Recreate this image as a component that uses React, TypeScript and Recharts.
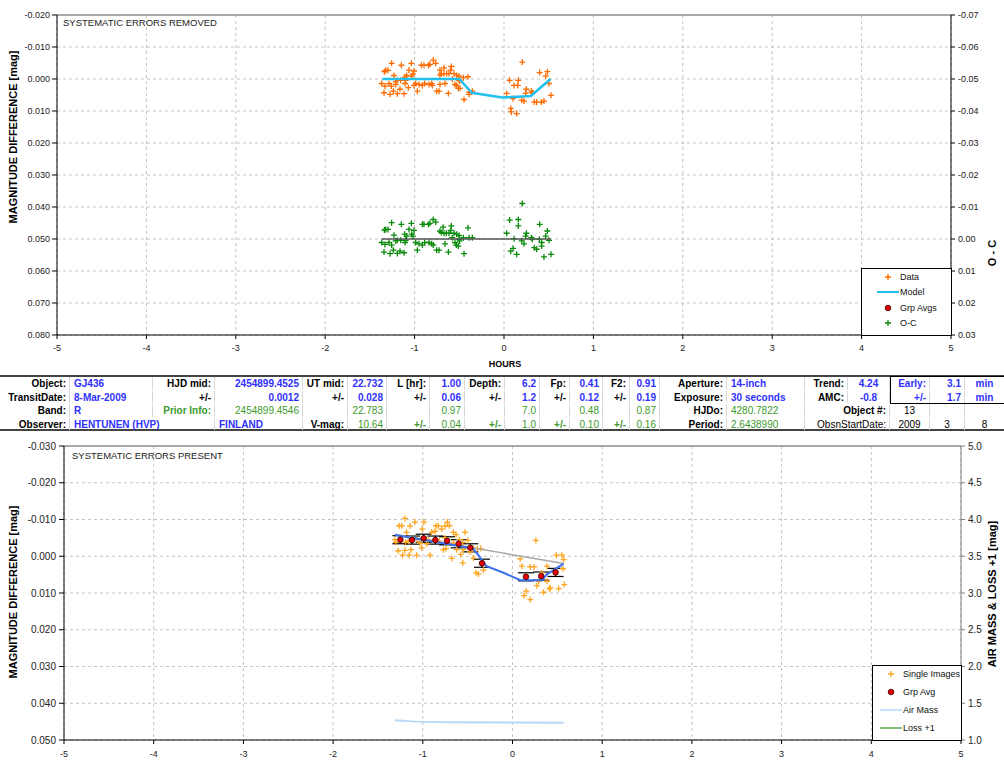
import React from "react";
import {
  ComposedChart,
  Scatter,
  XAxis,
  YAxis,
  CartesianGrid,
  ReferenceLine,
  ErrorBar,
} from "recharts";

const FONT = '"Liberation Sans", Arial, sans-serif';

// axis ticks
const HOUR_TICKS = [-5, -4, -3, -2, -1, 0, 1, 2, 3, 4, 5];
const TOP_LEFT_TICKS = [-0.02, -0.01, 0, 0.01, 0.02, 0.03, 0.04, 0.05, 0.06, 0.07, 0.08];
const TOP_RIGHT_TICKS = [-0.07, -0.06, -0.05, -0.04, -0.03, -0.02, -0.01, 0, 0.01, 0.02, 0.03];
const BOT_LEFT_TICKS = [-0.03, -0.02, -0.01, 0, 0.01, 0.02, 0.03, 0.04, 0.05];
const BOT_RIGHT_TICKS = [1, 1.5, 2, 2.5, 3, 3.5, 4, 4.5, 5];

// top panel: detrended data [hours, mag]
const DATA_PTS = [
  [-1.257, -0.0049], [-1.148, -0.0043], [-1.036, -0.0049], [-0.791, -0.0059], [-0.764, -0.0049],
  [-0.924, -0.0043], [-0.895, -0.0043], [-0.846, -0.0043], [-0.828, -0.0046], [-0.589, -0.0039],
  [-0.671, -0.0035], [-0.716, -0.0028], [0.205, -0.0053], [-1.323, -0.0027], [-1.297, -0.0027],
  [-1.338, -0.0023], [-1.063, -0.0028], [-1.007, -0.0025], [-0.596, -0.0028], [0.399, -0.002],
  [0.485, -0.0023], [-1.231, -0.0011], [-1.111, -0.0006], [-1.089, -0.0011], [-1.036, -0.0009],
  [-1.018, -0.0015], [-1.1, 0.0004], [-1.156, 0.0004], [-1.193, 0.0004], [-1.212, 0.0009],
  [-0.701, -0.0017], [-0.671, -0.0017], [-0.641, -0.0017], [-0.615, -0.0017], [-0.559, -0.0017],
  [-0.529, -0.0011], [-0.503, -0.0009], [-0.455, -0.0004], [-0.403, -0.0007], [-0.716, -0.0012],
  [-0.578, 0.0001], [-0.503, 0.0004], [-0.496, 0.0006], [0.466, -0.0009], [0.16, 0.0004],
  [0.063, 0.0004], [-1.368, 0.0014], [-1.331, 0.0022], [-1.286, 0.0014], [-1.26, 0.0022],
  [-1.212, 0.0017], [-1.107, 0.0014], [-0.988, 0.0014], [-0.951, 0.0017], [-0.913, 0.002],
  [-0.887, 0.0014], [-0.839, 0.0017], [-0.809, 0.0014], [-0.802, 0.002], [-0.66, 0.0014],
  [-0.548, 0.0017], [-0.533, 0.002], [-0.511, 0.0029], [0.112, 0.002], [0.153, 0.002],
  [0.503, 0.0014], [-0.716, 0.0017], [-1.007, 0.002], [-1.07, 0.0027], [-1.342, 0.0043],
  [-1.275, 0.0048], [-1.238, 0.0038], [-1.193, 0.0046], [-1.163, 0.0032], [-1.118, 0.0046],
  [-0.969, 0.0038], [-0.753, 0.0038], [-0.727, 0.0038], [-0.622, 0.0045], [-0.492, 0.0029],
  [-0.391, 0.0041], [-0.354, 0.0038], [-0.391, 0.0048], [0.03, 0.0045], [0.25, 0.0032],
  [0.306, 0.0038], [0.242, 0.0045], [0.317, 0.0043], [-0.447, 0.0064], [0.101, 0.0061],
  [0.198, 0.0066], [0.224, 0.0069], [0.339, 0.0072], [0.365, 0.0072], [0.447, 0.0069],
  [0.526, 0.0051], [0.075, 0.0092], [0.082, 0.0103], [0.142, 0.0108], [0.417, 0.0072],
];

const MODEL_PTS = [
  [-1.36, 0], [-0.5, 0], [-0.36, 0.0043], [-0.02, 0.0058], [0.3, 0.0053], [0.52, 0],
];

const OC_PTS = [
  [-1.257, 0.0449], [-1.148, 0.0454], [-1.036, 0.0451], [-0.913, 0.0454], [-0.895, 0.0454],
  [-0.846, 0.0454], [-0.828, 0.0451], [-0.791, 0.0439], [-0.764, 0.0447], [-0.589, 0.0459],
  [-0.682, 0.0463], [-0.716, 0.0475], [0.205, 0.0389], [-1.323, 0.047], [-1.297, 0.047],
  [-1.338, 0.0472], [-1.063, 0.047], [-1.007, 0.0473], [-0.596, 0.0473], [0.399, 0.0454],
  [0.485, 0.0475], [-1.231, 0.0488], [-1.111, 0.0485], [-1.089, 0.0491], [-1.033, 0.0485],
  [-1.018, 0.0491], [-1.156, 0.0504], [-1.193, 0.0504], [-1.1, 0.0504], [-1.212, 0.0506],
  [-0.701, 0.048], [-0.671, 0.0482], [-0.645, 0.0482], [-0.615, 0.0482], [-0.559, 0.0482],
  [-0.529, 0.0485], [-0.503, 0.0489], [-0.455, 0.0496], [-0.403, 0.0465], [-0.578, 0.0496],
  [-0.503, 0.0501], [-0.496, 0.0506], [0.466, 0.0491], [0.16, 0.0459], [0.063, 0.0441],
  [0.16, 0.0439], [-1.368, 0.0511], [-1.331, 0.0517], [-1.286, 0.0511], [-1.257, 0.0519],
  [-1.107, 0.0511], [-0.988, 0.0511], [-0.951, 0.0515], [-0.913, 0.0519], [-0.887, 0.0511],
  [-0.839, 0.0511], [-0.809, 0.0515], [-0.791, 0.0519], [-0.66, 0.0515], [-0.548, 0.0511],
  [-0.533, 0.0519], [-0.511, 0.0522], [0.112, 0.0499], [0.03, 0.0482], [0.503, 0.0504],
  [-1.342, 0.0541], [-1.275, 0.0546], [-1.238, 0.0535], [-1.193, 0.0545], [-1.163, 0.0538],
  [-1.118, 0.0543], [-0.969, 0.0535], [-0.753, 0.0535], [-0.727, 0.0535], [-0.622, 0.0541],
  [-0.391, 0.0496], [-0.354, 0.0496], [-0.447, 0.0546], [0.101, 0.0529], [0.075, 0.0538],
  [0.142, 0.0548], [0.198, 0.0506], [0.224, 0.0515], [0.25, 0.0482], [0.306, 0.0496],
  [0.242, 0.0491], [0.317, 0.0501], [0.339, 0.0527], [0.365, 0.0532], [0.447, 0.0556],
  [0.526, 0.0548], [0.421, 0.0511], [0.421, 0.0522], [0.395, 0.0501],
];

const OC_LINE = [[-1.368, 0.05], [0.526, 0.05]];

// bottom panel: raw data
const SINGLE_PTS = [
  [-1.199, -0.0103], [-1.263, -0.0083], [-1.236, -0.0083], [-1.143, -0.0082], [-1.088, -0.0093],
  [-0.987, -0.0093], [-1.006, -0.0074], [-1.181, -0.0065], [-0.853, -0.0083], [-0.827, -0.0083],
  [-0.79, -0.0074], [-0.752, -0.0082], [-0.726, -0.0093], [-0.704, -0.0083], [-0.864, -0.0068],
  [-0.901, -0.0065], [-0.659, -0.0065], [-0.629, -0.0059], [-0.529, -0.0065], [-1.311, -0.0045],
  [-1.3, -0.0038], [-1.192, -0.0038], [-1.162, -0.0041], [-1.061, -0.0045], [-1.032, -0.0036],
  [-0.939, -0.0045], [-0.957, -0.0034], [-0.816, -0.0041], [-0.752, -0.005], [-0.715, -0.0036],
  [-0.659, -0.0036], [-0.592, -0.0045], [-0.555, -0.0038], [-0.499, -0.0043], [-0.436, -0.0021],
  [-0.391, -0.0021], [-0.354, -0.0021], [-1.274, -0.0015], [-1.199, -0.0016], [-1.132, -0.0018],
  [-1.225, -0.0003], [-1.151, -0.0003], [-1.069, -0.0003], [-1.013, -0.0023], [-0.92, -0.0003],
  [-0.771, -0.0018], [-0.741, -0.0021], [-0.622, -0.0018], [-0.577, -0.0005], [-0.547, -0.0018],
  [-0.473, -0.0012], [-0.436, 0.0005], [-0.678, 0.0006], [-0.555, 0.0018], [-0.406, 0.0045],
  [-0.38, 0.0048], [-0.324, 0.0038], [0.261, -0.0043], [0.086, 0.0007], [0.104, 0.0027],
  [0.197, 0.0029], [0.242, 0.0029], [0.384, 0.0027], [0.488, -0.0003], [0.551, -0.0003],
  [0.562, 0.0034], [0.57, 0.0009], [0.477, 0.0038], [0.153, 0.0054], [0.291, 0.0068],
  [0.272, 0.008], [0.421, 0.0086], [0.413, 0.0089], [0.514, 0.0088], [0.577, 0.0077],
  [0.153, 0.0095], [0.13, 0.0107], [0.197, 0.0118], [0.346, 0.0098], [0.384, 0.0068],
  [0.328, 0.0045],
];

// group averages [hours, mag, err]
const GRP_PTS = [
  [-1.25, -0.0045, 0.0011], [-1.12, -0.0044, 0.0011], [-0.99, -0.0049, 0.0011],
  [-0.86, -0.0044, 0.0011], [-0.73, -0.0042, 0.0011], [-0.6, -0.0034, 0.0011],
  [-0.47, -0.0023, 0.0011], [-0.34, 0.0019, 0.0011], [0.15, 0.0056, 0.0011],
  [0.32, 0.0054, 0.0011], [0.48, 0.0044, 0.0011],
];

const TREND_LINE = [[-1.31, -0.006], [0.57, 0.002]];
const FIT_LINE = [
  [-1.31, -0.0058], [-0.45, -0.0022], [-0.4, -0.0009], [-0.29, 0.0027], [-0.1, 0.0045],
  [0.09, 0.0065], [0.33, 0.0065], [0.38, 0.005], [0.57, 0.002],
];
const AIRMASS = [[-1.31, 1.27], [-1.07, 1.25], [-0.74, 1.24], [0.57, 1.235]];

// results table
const TABLE_ROWS = [
  ["Object:", "GJ436", "HJD mid:", "2454899.4525", "UT mid:", "22.732", "L [hr]:", "1.00", "Depth:", "6.2", "Fp:", "0.41", "F2:", "0.91", "Aperture:", "14-inch", "Trend:", "4.24", "Early:", "3.1", "min"],
  ["TransitDate:", "8-Mar-2009", "+/-", "0.0012", "+/-", "0.028", "+/-", "0.06", "+/-", "1.2", "+/-", "0.12", "+/-", "0.19", "Exposure:", "30 seconds", "AMC:", "-0.8", "+/-", "1.7", "min"],
  ["Band:", "R", "Prior Info:", "2454899.4546", "", "22.783", "", "0.97", "", "7.0", "", "0.48", "", "0.87", "HJDo:", "4280.7822", "", "Object #:", "13", "", ""],
  ["Observer:", "HENTUNEN (HVP)", "", "FINLAND", "V-mag:", "10.64", "+/-", "0.04", "+/-", "1.0", "+/-", "0.10", "+/-", "0.16", "Period:", "2.6438990", "", "ObsnStartDate:", "2009", "3", "8"],
];
const TABLE_INK = [
  "kbkbkbkbkbkbkbkbkbbbb",
  "kbkbkbkbkbkbkbkbkbbbb",
  "kbGgngngngngngkgnknnn",
  "kbnbkgGgGgGgGgkgnnnnn",
];
const COL_EDGES = [0, 70, 153, 215, 303, 348, 387, 430, 465, 505, 540, 570, 603, 630, 660, 727, 805, 848, 890, 930, 965, 1004];

const INK: Record<string, { color: string; weight: number }> = {
  k: { color: "#000", weight: 700 },
  n: { color: "#000", weight: 400 },
  b: { color: "#3030ff", weight: 700 },
  g: { color: "#3c9a2c", weight: 400 },
  G: { color: "#3c9a2c", weight: 700 },
};

const toXY = (arr: number[][]) => arr.map((p) => ({ x: p[0], y: p[1], e: p[2] }));

const plus = (color: string, w = 1.3) => (props: any) => {
  const { cx, cy } = props;
  if (cx == null || cy == null) return <g />;
  return (
    <path
      d={`M${cx - 3},${cy}h6M${cx},${cy - 3}v6`}
      stroke={color}
      strokeWidth={w}
      fill="none"
    />
  );
};
const dot = (props: any) => {
  const { cx, cy } = props;
  if (cx == null || cy == null) return <g />;
  return <circle cx={cx} cy={cy} r={2.8} fill="#e50000" stroke="#3a0000" strokeWidth={0.8} />;
};
const none = () => <g />;

const tickStyle = { fontSize: 9, fill: "#222", fontFamily: FONT };

function Rotated({ x, y, text, size = 11 }: { x: number; y: number; text: string; size?: number }) {
  return (
    <div
      style={{
        position: "absolute",
        left: x,
        top: y,
        transform: "translate(-50%, -50%) rotate(-90deg)",
        whiteSpace: "nowrap",
        fontFamily: FONT,
        fontWeight: 700,
        fontSize: size,
        color: "#000",
      }}
    >
      {text}
    </div>
  );
}

function LegendBox({ left, top, width, height, items }: any) {
  return (
    <div
      style={{
        position: "absolute",
        left,
        top,
        width,
        height,
        background: "#fff",
        border: "1px solid #000",
        boxSizing: "border-box",
        fontFamily: FONT,
        fontSize: 9,
      }}
    >
      {items.map((it: any, i: number) => (
        <div
          key={i}
          style={{ position: "absolute", left: 0, top: it.y - top - 6, height: 12, width: "100%" }}
        >
          <svg width={30} height={12} style={{ position: "absolute", left: it.sx - left - 15, top: 0 }}>
            {it.kind === "plus" && (
              <path d="M12,6h6M15,3v6" stroke={it.color} strokeWidth={1.3} />
            )}
            {it.kind === "line" && <line x1={4} x2={26} y1={6} y2={6} stroke={it.color} strokeWidth={it.w || 2} />}
            {it.kind === "dot" && <circle cx={15} cy={6} r={2.8} fill="#e50000" stroke="#3a0000" strokeWidth={0.8} />}
          </svg>
          <span style={{ position: "absolute", left: it.tx - left, top: 0, lineHeight: "12px", color: "#111" }}>
            {it.label}
          </span>
        </div>
      ))}
    </div>
  );
}

function ResultsTable() {
  const top = 376;
  const rowH = 13.5;
  const alignFor = (r: number, c: number) => {
    if (c === 1 || c === 15) return "left";
    if (r === 3 && c === 3) return "left";
    if (c === 17) return r >= 2 ? "right" : "center";
    if (c === 20) return "center";
    if (c === 18 && r >= 2) return "center";
    if (c === 19 && r >= 2) return "center";
    return "right";
  };
  return (
    <div style={{ position: "absolute", left: 0, top: 0, width: 1004, height: 767, pointerEvents: "none" }}>
      <div style={{ position: "absolute", left: 0, top: top - 1, width: 1004, height: 2, background: "#444" }} />
      <div style={{ position: "absolute", left: 0, top: top + rowH * 4 - 1, width: 1004, height: 2, background: "#444" }} />
      {TABLE_ROWS.map((row, r) =>
        row.map((txt, c) => {
          const ink = INK[TABLE_INK[r][c]];
          const x0 = COL_EDGES[c];
          const x1 = COL_EDGES[c + 1];
          const align = alignFor(r, c);
          const skipBorder =
            (r === 3 && c === 1) || ((r === 2 || r === 3) && c === 16) || c === 20;
          return (
            <div
              key={`${r}-${c}`}
              style={{
                position: "absolute",
                left: x0,
                top: top + r * rowH + 1,
                width: x1 - x0,
                height: rowH - 1,
                borderRight: skipBorder ? "none" : "1px solid #d8d8d8",
                boxSizing: "border-box",
              }}
            >
              <div
                style={{
                  position: "absolute",
                  top: 1,
                  left: align === "right" ? undefined : align === "left" ? 4 : 0,
                  right: align === "right" ? 3 : undefined,
                  width: align === "center" ? "100%" : undefined,
                  textAlign: align as any,
                  whiteSpace: "nowrap",
                  fontFamily: FONT,
                  fontSize: 10,
                  lineHeight: `${rowH - 1}px`,
                  color: ink.color,
                  fontWeight: ink.weight,
                }}
              >
                {txt}
              </div>
            </div>
          );
        })
      )}
      <div
        style={{
          position: "absolute",
          left: 890,
          top: top,
          width: 114,
          height: rowH * 2 + 1,
          border: "1px solid #000",
          borderRight: "none",
          boxSizing: "border-box",
        }}
      />
    </div>
  );
}

export default function App() {
  const data = toXY(DATA_PTS);
  const model = toXY(MODEL_PTS);
  const oc = toXY(OC_PTS);
  const ocLine = toXY(OC_LINE);
  const singles = toXY(SINGLE_PTS);
  const grp = toXY(GRP_PTS);
  const trend = toXY(TREND_LINE);
  const fit = toXY(FIT_LINE);
  const air = toXY(AIRMASS);

  return (
    <div
      style={{
        position: "absolute",
        left: 0,
        top: 0,
        width: 1004,
        height: 767,
        background: "#fff",
        fontFamily: FONT,
        overflow: "hidden",
      }}
    >
      {/* top panel: systematic errors removed */}
      <div style={{ position: "absolute", left: 0, top: 0 }}>
        <ComposedChart width={1004} height={370} margin={{ top: 15, right: 0, bottom: 0, left: 0 }}>
          <CartesianGrid
            yAxisId="left"
            stroke="#c4c4c4"
            strokeDasharray="3 3"
            horizontalValues={TOP_LEFT_TICKS}
            verticalValues={HOUR_TICKS}
          />
          <XAxis
            type="number"
            dataKey="x"
            domain={[-5, 5]}
            ticks={HOUR_TICKS}
            height={35}
            tick={tickStyle}
            tickSize={4}
            tickMargin={6}
            stroke="#000"
            allowDataOverflow
          />
          <YAxis
            yAxisId="left"
            type="number"
            dataKey="y"
            domain={[-0.02, 0.08]}
            ticks={TOP_LEFT_TICKS}
            reversed
            width={57}
            tick={tickStyle}
            tickSize={5}
            tickMargin={2}
            tickFormatter={(v: number) => v.toFixed(3)}
            stroke="#000"
            allowDataOverflow
          />
          <YAxis
            yAxisId="right"
            orientation="right"
            type="number"
            dataKey="y"
            domain={[-0.07, 0.03]}
            ticks={TOP_RIGHT_TICKS}
            reversed
            width={53}
            tick={tickStyle}
            tickSize={4}
            tickMargin={3}
            tickFormatter={(v: number) => v.toFixed(2)}
            stroke="#000"
            allowDataOverflow
          />
          <ReferenceLine yAxisId="left" y={-0.02} stroke="#a8a8a8" strokeWidth={2} />
          <Scatter yAxisId="left" data={data} shape={plus("#ff6a00")} isAnimationActive={false} />
          <Scatter
            yAxisId="left"
            data={model}
            shape={none}
            line={{ stroke: "#22c0ee", strokeWidth: 2.5 }}
            isAnimationActive={false}
          />
          <Scatter yAxisId="left" data={oc} shape={plus("#0a8a0a")} isAnimationActive={false} />
          <Scatter
            yAxisId="left"
            data={ocLine}
            shape={none}
            line={{ stroke: "#555", strokeWidth: 1.6 }}
            isAnimationActive={false}
          />
        </ComposedChart>
      </div>

      <div
        style={{ position: "absolute", left: 63, top: 17, fontSize: 9.5, color: "#222", whiteSpace: "nowrap" }}
      >
        SYSTEMATIC ERRORS REMOVED
      </div>
      <div
        style={{
          position: "absolute",
          left: 505,
          top: 364,
          transform: "translate(-50%, -50%)",
          fontSize: 9,
          fontWeight: 700,
        }}
      >
        HOURS
      </div>
      <Rotated x={13} y={137} text="MAGNITUDE DIFFERENCE [mag]" />
      <Rotated x={992} y={253} text="O - C" />
      <LegendBox
        left={861}
        top={268}
        width={91}
        height={68}
        items={[
          { y: 276, sx: 887, tx: 899, kind: "plus", color: "#ff6a00", label: "Data" },
          { y: 291, sx: 887, tx: 899, kind: "line", color: "#22c0ee", label: "Model" },
          { y: 307, sx: 887, tx: 899, kind: "dot", label: "Grp Avgs" },
          { y: 322, sx: 887, tx: 899, kind: "plus", color: "#0a8a0a", label: "O-C" },
        ]}
      />

      <ResultsTable />

      {/* bottom panel: systematic errors present */}
      <div style={{ position: "absolute", left: 0, top: 431 }}>
        <ComposedChart width={1004} height={336} margin={{ top: 15, right: 0, bottom: 0, left: 0 }}>
          <CartesianGrid
            yAxisId="left"
            stroke="#c4c4c4"
            strokeDasharray="3 3"
            horizontalValues={BOT_LEFT_TICKS}
            verticalValues={HOUR_TICKS}
          />
          <XAxis
            type="number"
            dataKey="x"
            domain={[-5, 5]}
            ticks={HOUR_TICKS}
            height={27}
            tick={tickStyle}
            tickSize={4}
            tickMargin={7}
            stroke="#000"
            allowDataOverflow
          />
          <YAxis
            yAxisId="left"
            type="number"
            dataKey="y"
            domain={[-0.03, 0.05]}
            ticks={BOT_LEFT_TICKS}
            reversed
            width={64}
            tick={{ ...tickStyle, fontSize: 10 }}
            tickSize={5}
            tickMargin={3}
            tickFormatter={(v: number) => v.toFixed(3)}
            stroke="#000"
            allowDataOverflow
          />
          <YAxis
            yAxisId="right"
            orientation="right"
            type="number"
            dataKey="y"
            domain={[1, 5]}
            ticks={BOT_RIGHT_TICKS}
            width={43}
            tick={{ ...tickStyle, fontSize: 10 }}
            tickSize={4}
            tickMargin={3}
            tickFormatter={(v: number) => v.toFixed(1)}
            stroke="#808080"
            allowDataOverflow
          />
          <ReferenceLine yAxisId="left" y={-0.03} stroke="#a8a8a8" strokeWidth={2} />
          <Scatter yAxisId="left" data={singles} shape={plus("#ffa41c")} isAnimationActive={false} />
          <Scatter
            yAxisId="left"
            data={trend}
            shape={none}
            line={{ stroke: "#a8a8a8", strokeWidth: 1.5 }}
            isAnimationActive={false}
          />
          <Scatter
            yAxisId="left"
            data={fit}
            shape={none}
            line={{ stroke: "#3a6ff0", strokeWidth: 2 }}
            isAnimationActive={false}
          />
          <Scatter yAxisId="left" data={grp} shape={dot} isAnimationActive={false}>
            <ErrorBar dataKey="e" direction="y" width={8} stroke="#000" strokeWidth={1.2} />
          </Scatter>
          <Scatter
            yAxisId="right"
            data={air}
            shape={none}
            line={{ stroke: "#b6d9f8", strokeWidth: 2 }}
            isAnimationActive={false}
          />
        </ComposedChart>
      </div>

      <div
        style={{ position: "absolute", left: 72, top: 450, fontSize: 9.5, color: "#222", whiteSpace: "nowrap" }}
      >
        SYSTEMATIC ERRORS PRESENT
      </div>
      <Rotated x={13} y={592} text="MAGNITUDE DIFFERENCE [mag]" />
      <Rotated x={992} y={594} text="AIR MASS & LOSS +1 [mag]" />
      <LegendBox
        left={872}
        top={665}
        width={90}
        height={76}
        items={[
          { y: 673, sx: 890, tx: 902, kind: "plus", color: "#ffa41c", label: "Single Images" },
          { y: 691, sx: 890, tx: 902, kind: "dot", label: "Grp Avg" },
          { y: 709, sx: 890, tx: 902, kind: "line", color: "#b6d9f8", label: "Air Mass", w: 1.5 },
          { y: 727, sx: 890, tx: 902, kind: "line", color: "#5aac4a", label: "Loss +1", w: 1.5 },
        ]}
      />
    </div>
  );
}
